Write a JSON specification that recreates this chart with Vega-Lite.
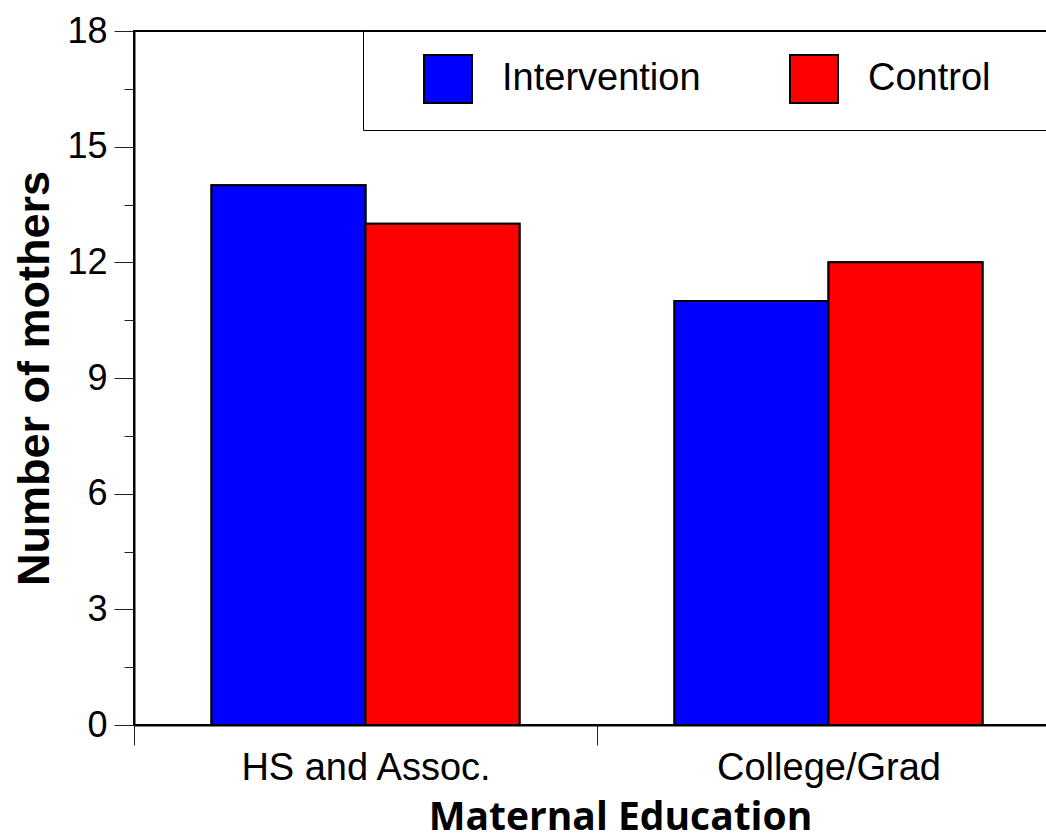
{
  "$schema": "https://vega.github.io/schema/vega-lite/v6.json",
  "autosize": "none",
  "width": 926,
  "height": 694,
  "padding": {"left": 134, "top": 31, "right": 0, "bottom": 115},
  "background": "white",
  "data": {
    "values": [
      {"education": "HS and Assoc.", "group": "Intervention", "mothers": 14},
      {"education": "HS and Assoc.", "group": "Control", "mothers": 13},
      {"education": "College/Grad", "group": "Intervention", "mothers": 11},
      {"education": "College/Grad", "group": "Control", "mothers": 12}
    ]
  },
  "encoding": {
    "x": {
      "field": "education",
      "type": "nominal",
      "sort": ["HS and Assoc.", "College/Grad"],
      "scale": {"paddingInner": 0, "paddingOuter": 0},
      "axis": {
        "title": "Maternal Education",
        "labelAngle": 0,
        "labelLimit": 500,
        "tickBand": "extent",
        "tickSize": 20,
        "tickColor": "#222",
        "tickWidth": 1,
        "domainColor": "black",
        "domainWidth": 2,
        "labelFont": "Liberation Sans",
        "labelFontSize": 38,
        "labelColor": "black",
        "labelPadding": 4,
        "titleFont": "Open Sans",
        "titleFontWeight": "bold",
        "titleFontSize": 39,
        "titleColor": "black",
        "titleX": 486,
        "titleY": 104,
        "titleAlign": "center",
        "titleBaseline": "alphabetic"
      }
    },
    "xOffset": {
      "field": "group",
      "type": "nominal",
      "sort": ["Intervention", "Control"],
      "scale": {"paddingInner": 0, "paddingOuter": 0.503}
    },
    "color": {
      "field": "group",
      "type": "nominal",
      "sort": ["Intervention", "Control"],
      "scale": {"domain": ["Intervention", "Control"], "range": ["#0000FF", "#FF0000"]},
      "legend": {
        "title": null,
        "orient": "none",
        "legendX": 229,
        "legendY": 0,
        "direction": "horizontal",
        "strokeColor": "black",
        "fillColor": "white",
        "padding": 23,
        "symbolType": "square",
        "symbolSize": 2304,
        "symbolStrokeColor": "black",
        "symbolStrokeWidth": 2,
        "symbolOffset": 37,
        "labelOffset": 29,
        "labelFont": "Liberation Sans",
        "labelFontSize": 38,
        "labelColor": "black",
        "labelLimit": 600,
        "labelExpr": "datum.label === 'Control' ? datum.label + '\u2800\u2800\u2800' : datum.label",
        "columnPadding": 51
      }
    }
  },
  "layer": [
    {
      "mark": {"type": "bar", "stroke": "black", "strokeWidth": 2},
      "encoding": {
        "y": {
          "field": "mothers",
          "type": "quantitative",
          "scale": {"domain": [0, 18], "nice": false},
          "axis": {
            "orient": "left",
            "title": null,
            "values": [1.5, 4.5, 7.5, 10.5, 13.5, 16.5],
            "labels": false,
            "domain": false,
            "tickSize": 10,
            "tickColor": "#222",
            "tickWidth": 1,
            "grid": false
          }
        }
      }
    },
    {
      "mark": {"type": "bar", "stroke": "black", "strokeWidth": 2},
      "encoding": {
        "y": {
          "field": "mothers",
          "type": "quantitative",
          "scale": {"domain": [0, 18], "nice": false},
          "axis": {
            "orient": "left",
            "title": "Number of mothers",
            "values": [0, 3, 6, 9, 12, 15, 18],
            "tickSize": 20,
            "tickColor": "#222",
            "tickWidth": 1,
            "grid": false,
            "domainColor": "black",
            "domainWidth": 2,
            "labelFont": "Liberation Sans",
            "labelFontSize": 36,
            "labelColor": "black",
            "labelPadding": 7,
            "titleFont": "Liberation Sans",
            "titleFontWeight": "bold",
            "titleFontSize": 45,
            "titleColor": "black",
            "titlePadding": 9
          }
        }
      }
    }
  ],
  "resolve": {"axis": {"y": "independent"}},
  "config": {
    "view": {"stroke": "black", "strokeWidth": 2}
  }
}
